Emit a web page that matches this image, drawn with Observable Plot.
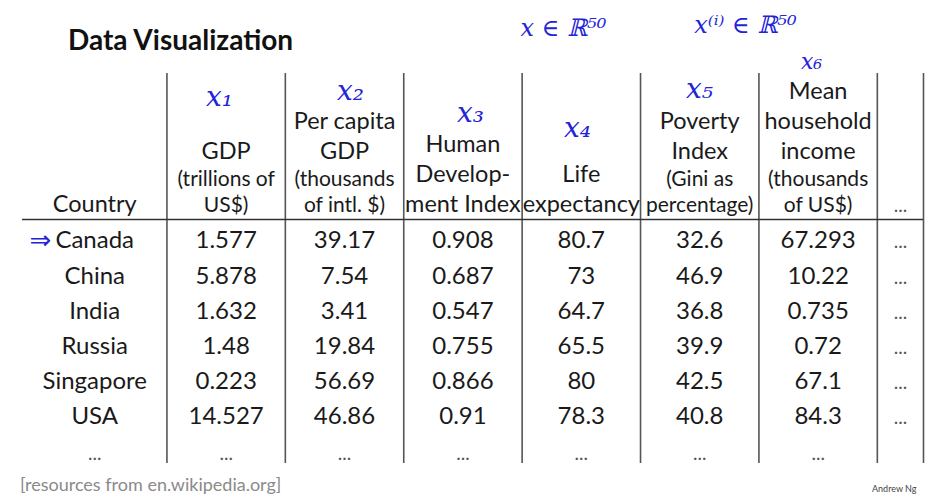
<!DOCTYPE html>
<html>
<head>
<meta charset="utf-8">
<script src="https://cdn.jsdelivr.net/npm/d3@7"></script>
<script src="https://cdn.jsdelivr.net/npm/@observablehq/plot@0.6"></script>
<style>
  html, body { margin: 0; padding: 0; background: #fff; }
  #wrap { position: relative; width: 947px; height: 495px; overflow: hidden; font-family: Lato, sans-serif; }
  #chart { position: absolute; left: 0; top: 0; }
  #title { position: absolute; left: 68px; top: 25px; font: 700 28px/1 Lato, sans-serif; color: #111; white-space: nowrap; }
  #caption { position: absolute; left: 20px; top: 475px; font: 400 18px/1 Lato, sans-serif; color: #8a8a8a; white-space: nowrap; }
  #credit { position: absolute; left: 872px; top: 484px; font: 400 9px/1 Lato, sans-serif; color: #444; white-space: nowrap; }
</style>
</head>
<body>
<div id="wrap">
  <div id="chart"></div>
  <div id="title">Data Visualization</div>
  <div id="caption">[resources from en.wikipedia.org]</div>
  <div id="credit">Andrew Ng</div>
</div>
<script>
// ---------------- data ----------------
const countries      = ["Canada", "China", "India", "Russia", "Singapore", "USA"];
const gdp            = [1.577, 5.878, 1.632, 1.48, 0.223, 14.527];
const perCapitaGdp   = [39.17, 7.54, 3.41, 19.84, 56.69, 46.86];
const hdi            = [0.908, 0.687, 0.547, 0.755, 0.866, 0.91];
const lifeExpectancy = [80.7, 73, 64.7, 65.5, 80, 78.3];
const povertyIndex   = [32.6, 46.9, 36.8, 39.9, 42.5, 40.8];
const meanIncome     = [67.293, 10.22, 0.735, 0.72, 67.1, 84.3];
const ellipsis = "...";

// header lines per column, top to bottom ("main" label or "unit" sub-label)
const headers = [
  [["Country", "main"]],
  [["GDP", "main"], ["(trillions of", "unit"], ["US$)", "unit"]],
  [["Per capita", "main"], ["GDP", "main"], ["(thousands", "unit"], ["of intl. $)", "unit"]],
  [["Human", "main"], ["Develop-", "main"], ["ment Index", "main"]],
  [["Life", "main"], ["expectancy", "main"]],
  [["Poverty", "main"], ["Index", "main"], ["(Gini as", "unit"], ["percentage)", "unit"]],
  [["Mean", "main"], ["household", "main"], ["income", "main"], ["(thousands", "unit"], ["of US$)", "unit"]],
  [[ellipsis, "dots"]]
];

// handwritten annotations
const notes = ["x\u2081", "x\u2082", "x\u2083", "x\u2084", "x\u2085", "x\u2086", "x \u2208 \u211D\u2075\u2070", "x\u207D\u2071\u207E \u2208 \u211D\u2075\u2070", "\u21D2"];

// ---------------- layout (not data) ----------------
const layout = {
  colWidths: [1.22, 1, 1, 1, 1, 1, 1, 0.39],
  yDomain: [-7.045, 7.017],
  headerBottom: -1.023,
  lineMain: 0.852,
  lineUnit: 0.753,
  tableTop: -4.972,
  tableBottom: 6.108,
  headerRule: -0.824,
  notePos: [[1.664, -4.29], [2.77, -4.46], [3.784, -3.86], [4.687, -3.41], [5.718, -4.52], [6.664, -5.3], [4.569, -6.25], [6.106, -6.34], [0.152, -0.23]],
  noteSize: [28, 28, 28, 28, 28, 22, 24, 24, 26]
};

const edges = [];
{ let acc = 0; for (const w of layout.colWidths) { acc += w; edges.push(acc); } }
const centers = layout.colWidths.map((w, i) => (i === 0 ? 0 : edges[i - 1]) + w / 2);
const totalW = edges[edges.length - 1];

// header line records with baselines stacked from the bottom
const headerRecs = [];
headers.forEach((lines, col) => {
  let y = layout.headerBottom;
  for (let k = lines.length - 1; k >= 0; k--) {
    const [text, kind] = lines[k];
    headerRecs.push({col, y, text, kind});
    y -= kind === "main" ? layout.lineMain : layout.lineUnit;
  }
});

const valueCols = [gdp, perCapitaGdp, hdi, lifeExpectancy, povertyIndex, meanIncome];
const cells = countries.flatMap((c, i) => [
  {col: 0, row: i, text: c},
  ...valueCols.map((arr, j) => ({col: j + 1, row: i, text: String(arr[i])}))
]);
const dotCells = [
  ...countries.map((c, i) => ({col: 7, row: i})),
  ...d3.range(7).map(col => ({col, row: countries.length}))
];
const noteRecs = notes.map((t, i) => ({text: t, x: layout.notePos[i][0], y: layout.notePos[i][1], size: layout.noteSize[i], i}));

const font = "Lato, sans-serif";
const blue = "#2323d8";
const noteMarks = [28, 24, 22].map(s => Plot.text(noteRecs.filter(d => d.size === s), {
  x: "x", y: "y", text: "text", fontSize: s, fontFamily: "DejaVu Serif, serif", fontStyle: "italic", fill: blue
}));
const chart = Plot.plot({
  width: 947,
  height: 495,
  marginTop: 0, marginBottom: 0, marginLeft: 22, marginRight: 24,
  x: {domain: [0, totalW], axis: null},
  y: {domain: layout.yDomain, reverse: true, axis: null},
  style: {overflow: "visible", background: "transparent"},
  marks: [
    Plot.ruleX(edges, {x: d => d, y1: layout.tableTop, y2: layout.tableBottom, stroke: "#555", strokeWidth: 1.6}),
    Plot.ruleY([layout.headerRule], {x1: 0, x2: totalW, stroke: "#333", strokeWidth: 1.6}),
    Plot.text(headerRecs.filter(d => d.kind === "main"), {x: d => centers[d.col], y: "y", text: "text", lineAnchor: "bottom", fontSize: 23.5, fontFamily: font, fill: "#1a1a1a"}),
    Plot.text(headerRecs.filter(d => d.kind === "unit"), {x: d => centers[d.col], y: "y", text: "text", lineAnchor: "bottom", fontSize: 21, fontFamily: font, fill: "#1a1a1a"}),
    Plot.text(headerRecs.filter(d => d.kind === "dots"), {x: d => centers[d.col], y: "y", text: "text", lineAnchor: "bottom", fontSize: 19, fontFamily: font, fill: "#555"}),
    Plot.text(cells, {x: d => centers[d.col], y: "row", text: "text", lineAnchor: "bottom", fontSize: 24, fontFamily: font, fill: "#1a1a1a"}),
    Plot.text(dotCells, {x: d => centers[d.col], y: "row", text: () => ellipsis, lineAnchor: "bottom", fontSize: 19, fontFamily: font, fill: "#555"}),
    ...noteMarks,
    Plot.text(noteRecs.filter(d => d.size === 26), {x: "x", y: "y", text: "text", fontSize: 26, fontFamily: "DejaVu Sans, sans-serif", fill: blue})
  ]
});
document.getElementById("chart").appendChild(chart);
</script>
</body>
</html>
